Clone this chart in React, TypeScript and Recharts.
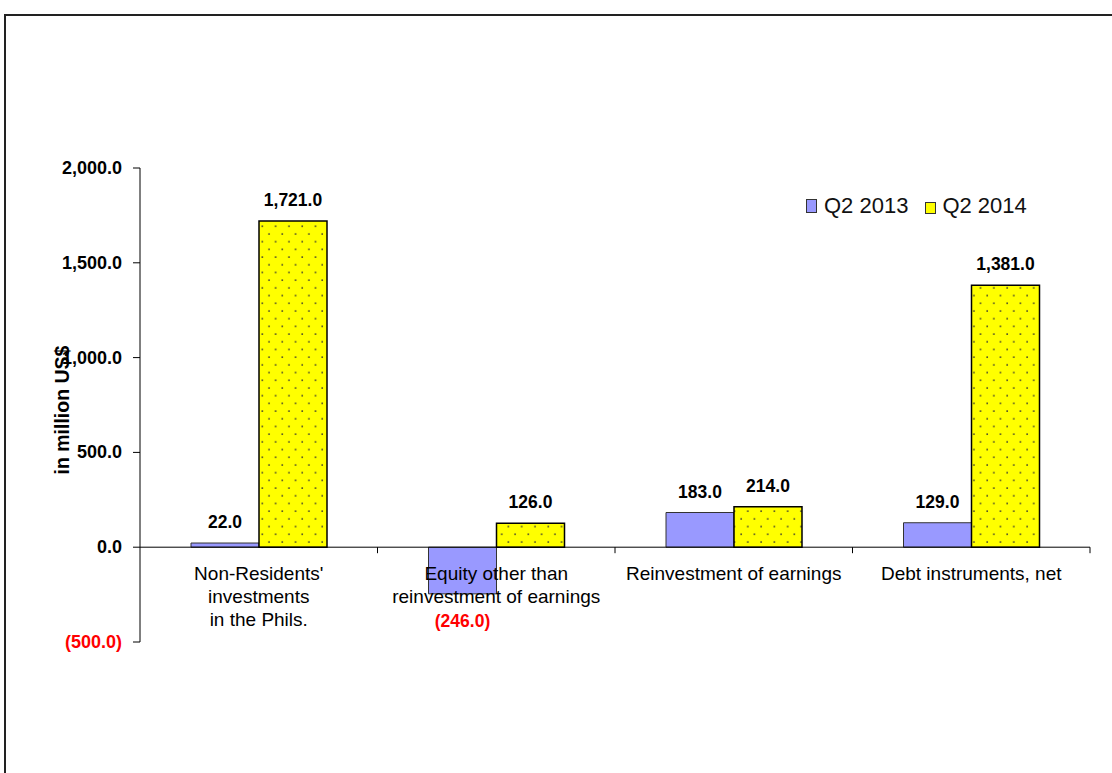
import { BarChart, Bar, XAxis, YAxis, ReferenceLine, LabelList, Label } from 'recharts';

const categories = [
  "Non-Residents'\ninvestments\nin the Phils.",
  'Equity other than\nreinvestment of earnings',
  'Reinvestment of earnings',
  'Debt instruments, net',
];
const q2_2013 = [22, -246, 183, 129];
const q2_2014 = [1721, 126, 214, 1381];
const yTicks = [-500, 0, 500, 1000, 1500, 2000];
const seriesNames = ['Q2 2013', 'Q2 2014'];

const data = categories.map((name, i) => ({ name, a: q2_2013[i], b: q2_2014[i] }));

const W = 1112;
const H = 773;
const M = { top: 168, right: 22, bottom: 51, left: 60 };
const Y_AXIS_W = 80;
const X_AXIS_H = 80;
const plotH = H - M.top - M.bottom - X_AXIS_H;
const plotW = W - M.left - Y_AXIS_W - M.right;
const yMin = yTicks[0];
const yMax = yTicks[yTicks.length - 1];
const zeroY = M.top + (yMax / (yMax - yMin)) * plotH;
const band = plotW / categories.length;

const FONT = '"Liberation Sans", Arial, sans-serif';

const fmt = (v: number) => {
  const s = Math.abs(v).toLocaleString('en-US', { minimumFractionDigits: 1, maximumFractionDigits: 1 });
  return v < 0 ? `(${s})` : s;
};

const YTick = (props: any) => {
  const { x, y, payload } = props;
  const v = payload.value as number;
  return (
    <text x={x} y={y} dy={6} textAnchor="end" fontFamily={FONT} fontSize={18} fontWeight="bold" fill={v < 0 ? '#FF0000' : '#000'}>
      {fmt(v)}
    </text>
  );
};

const XTick = (props: any) => {
  const { x, payload } = props;
  const lines = String(payload.value).split('\n');
  return (
    <g>
      <line x1={x + band / 2} x2={x + band / 2} y1={zeroY} y2={zeroY + 6} stroke="#000" strokeWidth={1} />
      {lines.map((ln, i) => (
        <text key={i} x={x} y={zeroY + 33 + i * 23} textAnchor="middle" fontFamily={FONT} fontSize={19} fill="#000">
          {ln}
        </text>
      ))}
    </g>
  );
};

const ValueLabel = (props: any) => {
  const { x, y, width, height, value } = props;
  const top = Math.min(y, y + height);
  const bottom = Math.max(y, y + height);
  const cx = x + width / 2;
  if (value < 0) {
    return (
      <text x={cx} y={bottom + 33} textAnchor="middle" fontFamily={FONT} fontSize={17.5} fontWeight="bold" fill="#FF0000">
        {fmt(value)}
      </text>
    );
  }
  return (
    <text x={cx} y={top - 15} textAnchor="middle" fontFamily={FONT} fontSize={17.5} fontWeight="bold" fill="#000">
      {fmt(value)}
    </text>
  );
};

export default function App() {
  return (
    <div style={{ position: 'fixed', left: 0, top: 0, width: W, height: H, overflow: 'hidden', background: '#fff' }}>
      <svg width={0} height={0} style={{ position: 'absolute' }}>
        <defs>
          <pattern id="dots" width={13.3} height={15.4} patternUnits="userSpaceOnUse">
            <rect width={13.3} height={15.4} fill="#FFFF00" />
            <circle cx={3} cy={3} r={0.9} fill="#333" />
            <circle cx={9.65} cy={10.7} r={0.9} fill="#333" />
          </pattern>
        </defs>
      </svg>
      <div style={{ position: 'absolute', left: 4, top: 14, width: 1200, height: 900, border: '2px solid #222' }} />
      <div style={{ position: 'absolute', left: 0, top: 0 }}>
        <BarChart width={W} height={H} data={data} margin={M} barGap={0} barSize={68}>
          <XAxis
            dataKey="name"
            height={X_AXIS_H}
            axisLine={false}
            tickLine={false}
            interval={0}
            tick={<XTick />}
          />
          <YAxis
            width={Y_AXIS_W}
            domain={[yMin, yMax]}
            ticks={yTicks}
            interval={0}
            axisLine={{ stroke: '#000', strokeWidth: 1 }}
            tickLine={{ stroke: '#000', strokeWidth: 1 }}
            tickSize={7}
            tickMargin={11}
            tick={<YTick />}
          >
            <Label
              content={() => (
                <text
                  x={0}
                  y={0}
                  transform={`translate(69, ${M.top + plotH / 2 + 5}) rotate(-90)`}
                  textAnchor="middle"
                  fontFamily={FONT}
                  fontSize={19.5}
                  fontWeight="bold"
                  fill="#000"
                >
                  in million US$
                </text>
              )}
            />
          </YAxis>
          <ReferenceLine y={0} stroke="#000" strokeWidth={1} />
          <Bar dataKey="a" name={seriesNames[0]} fill="#9999FF" stroke="#333" strokeWidth={1} isAnimationActive={false}>
            <LabelList dataKey="a" content={<ValueLabel />} />
          </Bar>
          <Bar dataKey="b" name={seriesNames[1]} fill="url(#dots)" stroke="#000" strokeWidth={1.5} isAnimationActive={false}>
            <LabelList dataKey="b" content={<ValueLabel />} />
          </Bar>
        </BarChart>
      </div>
      <div style={{ position: 'absolute', left: 806, top: 193, display: 'flex', alignItems: 'center', fontFamily: FONT, fontSize: 22, color: '#111' }}>
        <span style={{ display: 'inline-block', width: 9, height: 12, background: '#9999FF', border: '1px solid #333', marginRight: 7 }} />
        <span style={{ marginRight: 17 }}>{seriesNames[0]}</span>
        <span style={{ display: 'inline-block', width: 9, height: 10, background: '#FFFF00', border: '1px solid #333', marginRight: 6, marginTop: 3 }} />
        <span>{seriesNames[1]}</span>
      </div>
    </div>
  );
}
